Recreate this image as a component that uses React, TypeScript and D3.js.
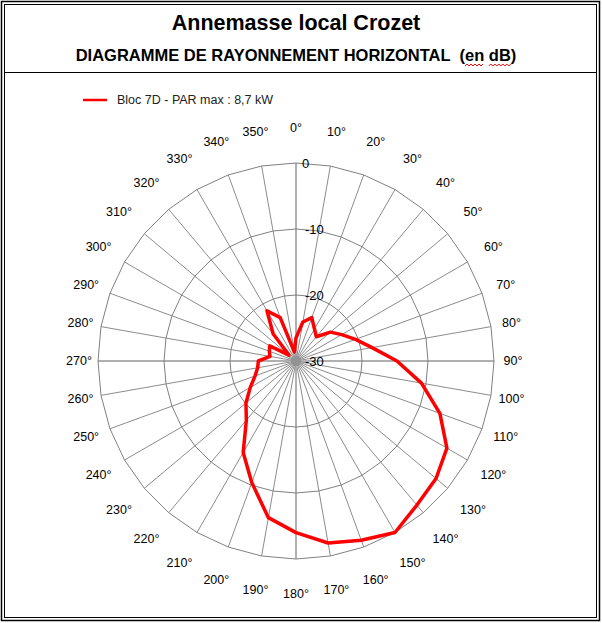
import React, { useRef, useEffect } from 'react';
import * as d3 from 'd3';

// directions in degrees (clockwise from north)
const directions = [0, 10, 20, 30, 40, 50, 60, 70, 80, 90, 100, 110, 120, 130, 140, 150, 160, 170,
  180, 190, 200, 210, 220, 230, 240, 250, 260, 270, 280, 290, 300, 310, 320, 330, 340, 350];

// attenuation in dB
const attenuation = [-26.5, -24, -23, -24.4, -25.2, -23.2, -22, -20.4, -18.3, -14.7, -10.7, -6.8,
  -3.6, -2.3, -1.5, 0, -1.1, -2.0, -4.0, -5.9, -10.4, -14.0, -18.3, -20.1,
  -22, -23.4, -24.1, -24.3, -26, -25.7, -25.4, -28.6, -24.6, -21.2, -23, -28.6];

const valueTicks = [0, -10, -20, -30];
const ringTicks = [0, -10, -20];

const title = 'Annemasse local Crozet';
const subtitle = 'DIAGRAMME DE RAYONNEMENT HORIZONTAL  (en dB)';
const seriesName = 'Bloc 7D - PAR max : 8,7 kW';

const W = 602;
const H = 623;
const FONT = '"Liberation Sans", Arial, sans-serif';

const App: React.FC = () => {
  const svgRef = useRef<SVGSVGElement>(null);

  useEffect(() => {
    if (!svgRef.current) return;
    const svg = d3.select(svgRef.current);
    svg.selectAll('*').remove();

    const cx = 296;
    const cy = 361;
    const r = d3.scaleLinear().domain([-30, 0]).range([0, 198]);
    const rad = (deg: number) => (deg * Math.PI) / 180;
    const px = (deg: number, rr: number) => cx + rr * Math.sin(rad(deg));
    const py = (deg: number, rr: number) => cy - rr * Math.cos(rad(deg));

    svg.append('rect').attr('width', W).attr('height', H).attr('fill', '#fff');

    // frame
    svg.append('rect').attr('x', 1.5).attr('y', 1.5).attr('width', W - 4).attr('height', H - 4)
      .attr('fill', 'none').attr('stroke', '#000').attr('stroke-width', 1.5);
    svg.append('rect').attr('x', 4.5).attr('y', 4.5).attr('width', W - 10).attr('height', H - 10)
      .attr('fill', 'none').attr('stroke', '#000').attr('stroke-width', 1);
    svg.append('line').attr('x1', 4.5).attr('x2', W - 5.5).attr('y1', 72.5).attr('y2', 72.5)
      .attr('stroke', '#000').attr('stroke-width', 1);

    // titles
    svg.append('text').attr('x', cx).attr('y', 30).attr('text-anchor', 'middle')
      .attr('font-family', FONT).attr('font-size', 21.5).attr('font-weight', 'bold').text(title);
    const sub = svg.append('text').attr('x', cx).attr('y', 61).attr('text-anchor', 'middle')
      .attr('font-family', FONT).attr('font-size', 16.5).attr('font-weight', 'bold')
      .style('white-space', 'pre').text(subtitle);

    // spell-check squiggles under "en" and "dB"
    const subNode = sub.node() as SVGTextElement;
    const squiggle = (word: string) => {
      const i = subtitle.indexOf(word);
      if (i < 0) return;
      const x0 = subNode.getStartPositionOfChar(i).x;
      const x1 = subNode.getEndPositionOfChar(i + word.length - 1).x;
      const pts: [number, number][] = [];
      for (let x = x0, k = 0; x <= x1; x += 2, k++) pts.push([x, 65 + (k % 2 ? -1 : 1)]);
      svg.append('path').attr('d', d3.line()(pts)).attr('fill', 'none')
        .attr('stroke', '#e00000').attr('stroke-width', 1);
    };
    squiggle('en');
    squiggle('dB');

    // legend
    svg.append('line').attr('x1', 83).attr('x2', 107).attr('y1', 100).attr('y2', 100)
      .attr('stroke', '#ff0000').attr('stroke-width', 2.5);
    svg.append('text').attr('x', 117).attr('y', 104).attr('font-family', FONT)
      .attr('font-size', 12.5).attr('fill', '#222').text(seriesName);

    const g = svg.append('g');

    // spokes
    g.selectAll('line.spoke').data(directions).enter().append('line')
      .attr('class', 'spoke')
      .attr('x1', cx).attr('y1', cy)
      .attr('x2', d => px(d, r(0))).attr('y2', d => py(d, r(0)))
      .attr('stroke', d => (d % 90 === 0 ? '#b0b0b0' : '#8c8c8c'))
      .attr('stroke-width', d => (d % 90 === 0 ? 2 : 1));

    // polygon rings
    const ringLine = d3.lineRadial<number>()
      .angle(d => rad(d))
      .curve(d3.curveLinearClosed);
    ringTicks.forEach(t => {
      g.append('path')
        .attr('transform', `translate(${cx},${cy})`)
        .attr('d', ringLine.radius(() => r(t))(directions))
        .attr('fill', 'none').attr('stroke', '#808080').attr('stroke-width', 1);
    });

    g.append('circle').attr('cx', cx).attr('cy', cy).attr('r', 5).attr('fill', '#939393');

    // value labels
    g.selectAll('text.val').data(valueTicks).enter().append('text')
      .attr('class', 'val')
      .attr('x', d => (d === 0 ? cx + 6 : cx + 9))
      .attr('y', d => cy - r(d) + 5)
      .attr('font-family', FONT).attr('font-size', 13).attr('fill', '#000')
      .text(d => (d === 0 ? '0' : '-' + Math.abs(d)));

    // direction labels
    const labelR = (d: number) => 233 - 16 * Math.pow(Math.abs(Math.sin(rad(d))), 8);
    g.selectAll('text.dir').data(directions).enter().append('text')
      .attr('class', 'dir')
      .attr('x', d => px(d, labelR(d)))
      .attr('y', d => py(d, labelR(d)) + 4)
      .attr('text-anchor', 'middle')
      .attr('font-family', FONT).attr('font-size', 12.5).attr('fill', '#000')
      .text(d => `${d}°`);

    // pattern
    const pattern = d3.lineRadial<number>()
      .angle((_, i) => rad(directions[i]))
      .radius(d => r(d))
      .curve(d3.curveLinearClosed);
    g.append('path')
      .attr('transform', `translate(${cx},${cy})`)
      .attr('d', pattern(attenuation))
      .attr('fill', 'none').attr('stroke', '#ff0000').attr('stroke-width', 3.5)
      .attr('stroke-linejoin', 'round');
  }, []);

  return (
    <svg ref={svgRef} width={W} height={H}
      style={{ position: 'absolute', left: 0, top: 0, display: 'block' }} />
  );
};

export default App;
